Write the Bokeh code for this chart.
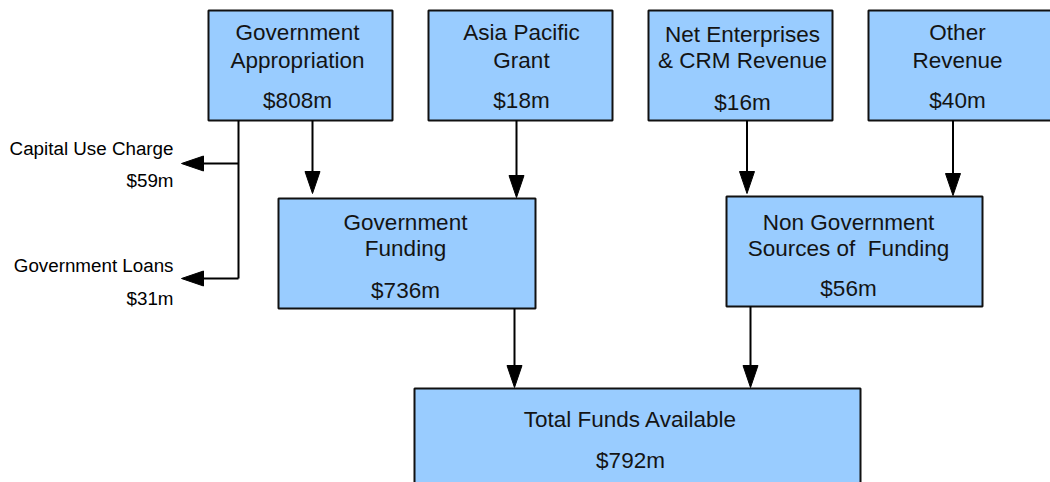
from bokeh.plotting import figure
from bokeh.models import Range1d
from bokeh.core.properties import value
from bokeh.embed import file_html
from bokeh.resources import INLINE

# ---------------- data ----------------
node_titles = [
    ["Government", "Appropriation"],
    ["Asia Pacific", "Grant"],
    ["Net Enterprises", "& CRM Revenue"],
    ["Other", "Revenue"],
    ["Government", "Funding"],
    ["Non Government", "Sources of\u00a0 Funding"],
    ["Total Funds Available"],
]
node_values = [808, 18, 16, 40, 736, 56, 792]  # $m

outflow_labels = ["Capital Use Charge", "Government Loans"]
outflow_values = [59, 31]  # $m

# ---------------- layout (pixel space) ----------------
box_left = [208, 428, 648, 868, 278, 726, 414]
box_right = [392, 612, 832, 1052, 535, 982, 860]
box_top = [10, 10, 10, 10, 198, 196, 388]
box_bottom = [120, 120, 120, 120, 308, 306, 500]
text_x = [297, 521, 742, 957, 405, 848, 630]
title_centers = [[32, 60], [32, 60], [33.5, 59.5], [32, 59.5],
                 [222, 248], [221.5, 247.5], [419]]
value_center = [99.5, 99.5, 101.5, 99.5, 289.5, 287.5, 459.5]

out_label_x = 173
out_label_y = [148, 264.5]
out_value_y = [180, 297.5]

# arrows: (x0, y0, x1, y1) tip at (x1, y1)
arrows = [
    (312, 120, 312, 193),
    (516, 120, 516, 197),
    (746.5, 120, 746.5, 193),
    (952.5, 120, 952.5, 195),
    (514, 308, 514, 387),
    (750, 306, 750, 387),
    (238, 163, 181, 163),
    (238, 278, 181, 278),
]
plain_lines = [(238, 120, 238, 278)]
head_len, head_w = 22, 15

FONT = value("Liberation Sans")
TXT = "#141414"

W, H = 1050, 482
p = figure(width=W, height=H, x_range=Range1d(0, W), y_range=Range1d(H, 0),
           output_backend="svg", toolbar_location=None, min_border=0,
           x_axis_type=None, y_axis_type=None)
p.outline_line_color = None
p.background_fill_color = "white"
p.border_fill_color = "white"

# boxes
p.quad(left=box_left, right=box_right, top=box_top, bottom=box_bottom,
       fill_color="#99CCFF", line_color="#111111", line_width=2)

# box texts
tx, ty, tt = [], [], []
for i, lines in enumerate(node_titles):
    for line, yc in zip(lines, title_centers[i]):
        tx.append(text_x[i]); ty.append(yc); tt.append(line)
    tx.append(text_x[i]); ty.append(value_center[i]); tt.append(f"${node_values[i]}m")
p.text(x=tx, y=ty, text=tt, text_align="center", text_baseline="alphabetic",
       text_font=FONT, text_font_size="22.5px", text_color=TXT)

# outflow labels
ox, oy, ot = [], [], []
for lab, v, y1, y2 in zip(outflow_labels, outflow_values, out_label_y, out_value_y):
    ox += [out_label_x, out_label_x]; oy += [y1, y2]; ot += [lab, f"${v}m"]
p.text(x=ox, y=oy, text=ot, text_align="right", text_baseline="alphabetic",
       text_font=FONT, text_font_size="18.8px", text_color="#000000")

# arrow shafts and heads
sx0, sy0, sx1, sy1 = [], [], [], []
hx, hy = [], []
for (x0, y0, x1, y1) in arrows:
    dx, dy = x1 - x0, y1 - y0
    L = (dx * dx + dy * dy) ** 0.5
    ux, uy = dx / L, dy / L
    bx, by = x1 - ux * head_len, y1 - uy * head_len
    sx0.append(x0); sy0.append(y0); sx1.append(bx + ux * 2); sy1.append(by + uy * 2)
    px, py = -uy, ux
    hx.append([x1, bx + px * head_w / 2, bx - px * head_w / 2])
    hy.append([y1, by + py * head_w / 2, by - py * head_w / 2])
for (x0, y0, x1, y1) in plain_lines:
    sx0.append(x0); sy0.append(y0); sx1.append(x1); sy1.append(y1)

p.segment(x0=sx0, y0=sy0, x1=sx1, y1=sy1, line_color="#000000", line_width=2)
p.patches(xs=hx, ys=hy, fill_color="#000000", line_color="#000000", line_width=1)

open("out.html", "w").write(file_html(p, INLINE))
